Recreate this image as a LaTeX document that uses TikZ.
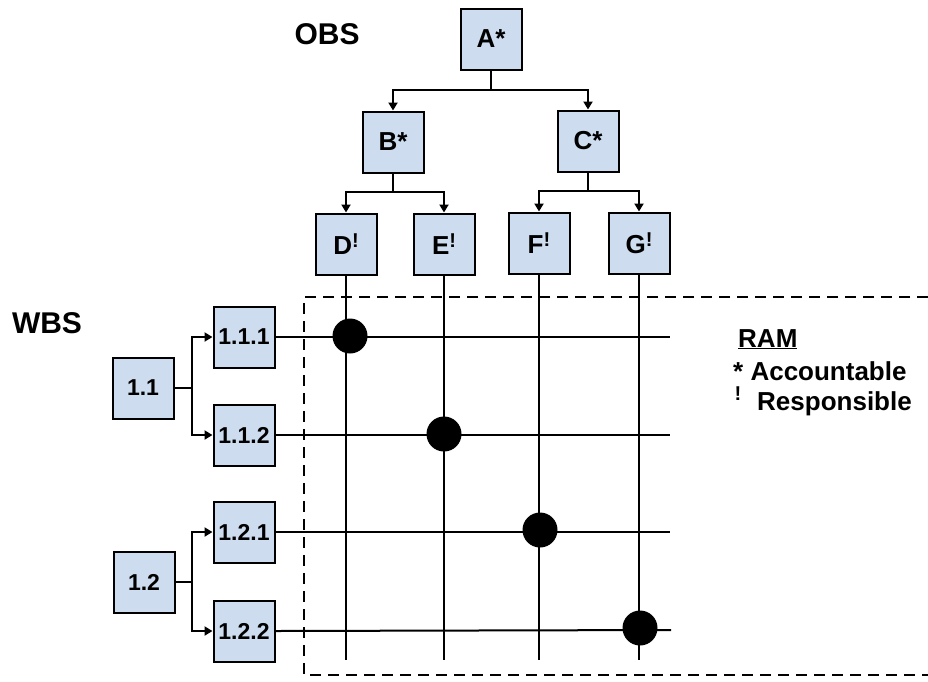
\documentclass[tikz,border=0pt]{standalone}
\usepackage{fontspec}
\setmainfont{Liberation Sans}
\usetikzlibrary{arrows.meta}
\definecolor{boxblue}{RGB}{205,220,238}
\tikzset{
  box/.style={draw=black, line width=2pt, fill=boxblue, minimum width=61pt, minimum height=61pt, inner sep=0pt, font=\fontsize{23}{26}\selectfont\bfseries},
  lbox/.style={box, font=\fontsize{26}{29}\selectfont\bfseries},
  conn/.style={line width=2pt},
  arr/.style={line width=2pt, -{Triangle[width=9pt,length=8pt]}},
  grid/.style={line width=2pt},
  title/.style={font=\fontsize{30}{34}\selectfont\bfseries},
  legend/.style={font=\fontsize{26}{29}\selectfont\bfseries, inner sep=0pt},
  dot/.style={circle, fill=black, minimum size=35pt, inner sep=0pt}
}
\newcommand{\rsup}{\raisebox{0.28em}{\fontsize{20}{20}\selectfont !}}
\begin{document}
\begin{tikzpicture}[x=1pt,y=-1pt]
\useasboundingbox (0,0) rectangle (928,681);
% titles
\node[title] (obs) at (327,34) {OBS};
\node[title] (wbs) at (47,323) {WBS};
% OBS boxes
\node[lbox] (A) at (491,39) {A*};
\node[lbox] (B) at (393,142) {B*};
\node[lbox] (C) at (588,141) {C*};
\node[lbox] (D) at (346,244) {D\rsup};
\node[lbox] (E) at (444,244) {E\rsup};
\node[lbox] (F) at (539,243) {F\rsup};
\node[lbox] (G) at (639,243) {G\rsup};
% WBS boxes
\node[box] (W11) at (143,388) {1.1};
\node[box] (W12) at (144,582) {1.2};
\node[box] (W111) at (244,337) {1.1.1};
\node[box] (W112) at (244,435) {1.1.2};
\node[box] (W121) at (244,532) {1.2.1};
\node[box] (W122) at (244,631) {1.2.2};
% OBS connectors
\coordinate (a1) at (491,90);
\coordinate (b1) at (393,192);
\coordinate (c1) at (588,191);
\draw[conn] (A.south) -- (a1);
\draw[arr] (a1) -| (B.north);
\draw[arr] (a1) -| (C.north);
\draw[conn] (B.south) -- (b1);
\draw[arr] (b1) -| (D.north);
\draw[arr] (b1) -| (E.north);
\draw[conn] (C.south) -- (c1);
\draw[arr] (c1) -| (F.north);
\draw[arr] (c1) -| (G.north);
% WBS connectors
\coordinate (w1) at (192,388);
\coordinate (w2) at (192,582);
\draw[conn] (W11.east) -- (w1);
\draw[arr] (w1) |- (W111.west);
\draw[arr] (w1) |- (W112.west);
\draw[conn] (W12.east) -- (w2);
\draw[arr] (w2) |- (W121.west);
\draw[arr] (w2) |- (W122.west);
% RAM dashed frame
\draw[line width=1.6pt, dash pattern=on 11pt off 7pt] (928,297) -- (304,297) -- (304,675) -- (928,675);
% grid lines
\coordinate (r1) at (670,337);
\coordinate (r2) at (670,435);
\coordinate (r3) at (670,532);
\coordinate (r4) at (671,630);
\draw[grid] (W111.east) -- (r1);
\draw[grid] (W112.east) -- (r2);
\draw[grid] (W121.east) -- (r3);
\draw[grid] (W122.east) -- (r4);
\coordinate (d1) at (346,660);
\coordinate (e1) at (444,660);
\coordinate (f1) at (539,660);
\coordinate (g1) at (639,660);
\draw[grid] (D.south) -- (d1);
\draw[grid] (E.south) -- (e1);
\draw[grid] (F.south) -- (f1);
\draw[grid] (G.south) -- (g1);
% responsibility dots
\node[dot] (x1) at (350,336) {};
\node[dot] (x2) at (444,434) {};
\node[dot] (x3) at (540,530) {};
\node[dot] (x4) at (640,628) {};
% legend
\node[legend, anchor=base west] (ram) at (738,347) {\underline{RAM}};
\node[legend, anchor=base west] (acc) at (733,380) {* Accountable};
\node[legend, anchor=base west] (res) at (757,410) {Responsible};
\node[anchor=base, inner sep=0pt, font=\fontsize{20}{20}\selectfont\bfseries] (resm) at (738,400) {!};
\end{tikzpicture}
\end{document}
